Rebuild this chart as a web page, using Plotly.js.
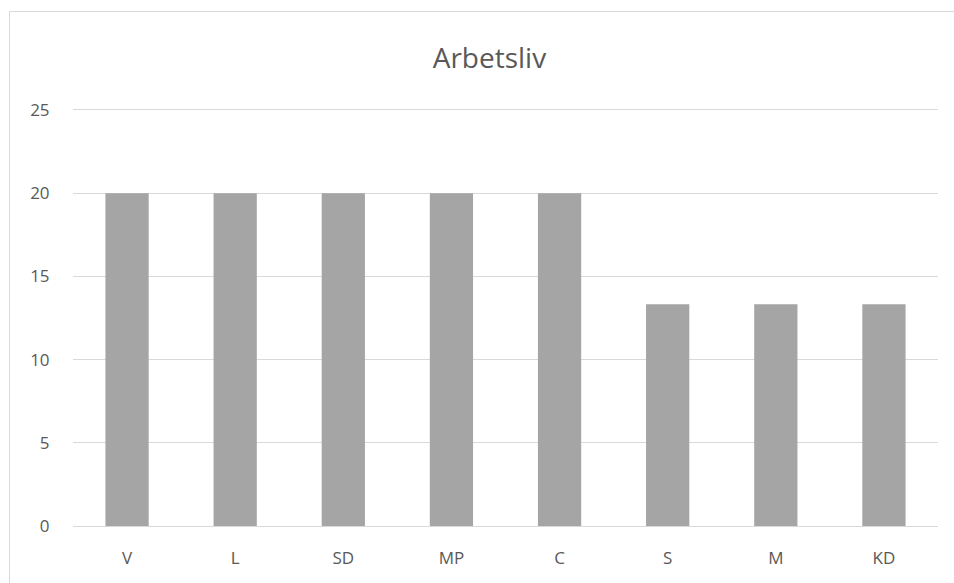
<!DOCTYPE html>
<html>
<head>
<meta charset="utf-8">
<script src="https://cdn.plot.ly/plotly-3.0.1.min.js"></script>
<style>html,body{margin:0;padding:0;background:#fff;overflow:hidden;}</style>
</head>
<body>
<div id="chart" style="width:954px;height:583px;"></div>
<script>
const categories = ["V", "L", "SD", "MP", "C", "S", "M", "KD"];
const values = [20, 20, 20, 20, 20, 13.33, 13.33, 13.33];
const yTicks = [0, 5, 10, 15, 20, 25];

const trace = {
  type: "bar",
  x: categories,
  y: values,
  marker: { color: "#A5A5A5", line: { width: 0 } },
  hoverinfo: "x+y"
};

const fam = "Open Sans, Lato, sans-serif";

const layout = {
  width: 954,
  height: 583,
  margin: { l: 73, r: 16, t: 105, b: 57 },
  paper_bgcolor: "#ffffff",
  plot_bgcolor: "#ffffff",
  bargap: 0.6,
  showlegend: false,
  title: {
    text: "Arbetsliv",
    font: { family: fam, color: "#595959", size: 28 },
    x: 0.513, xanchor: "center",
    y: 0.9, yanchor: "middle"
  },
  xaxis: {
    type: "category",
    tickfont: { family: fam, color: "#595959", size: 17 },
    showgrid: false,
    showline: true,
    linecolor: "#D9D9D9",
    linewidth: 1,
    ticks: "outside",
    ticklen: 17,
    tickcolor: "rgba(0,0,0,0)",
    zeroline: false
  },
  yaxis: {
    range: [0, 25.3],
    tickvals: yTicks,
    ticktext: yTicks.map(String),
    tickfont: { family: fam, color: "#595959", size: 17 },
    showgrid: true,
    gridcolor: "#D9D9D9",
    gridwidth: 1,
    zeroline: false,
    showline: false,
    ticks: "outside",
    ticklen: 19,
    tickcolor: "rgba(0,0,0,0)"
  },
  shapes: [
    {
      type: "rect",
      xref: "paper", yref: "paper",
      x0: (9.5 - 73) / 865, x1: (1000 - 73) / 865,
      y0: -0.3, y1: (526 - 11.5) / 421,
      line: { color: "#D9D9D9", width: 1 },
      fillcolor: "rgba(0,0,0,0)",
      layer: "below"
    }
  ]
};

Plotly.newPlot("chart", [trace], layout, { displayModeBar: false, staticPlot: true });
</script>
</body>
</html>
